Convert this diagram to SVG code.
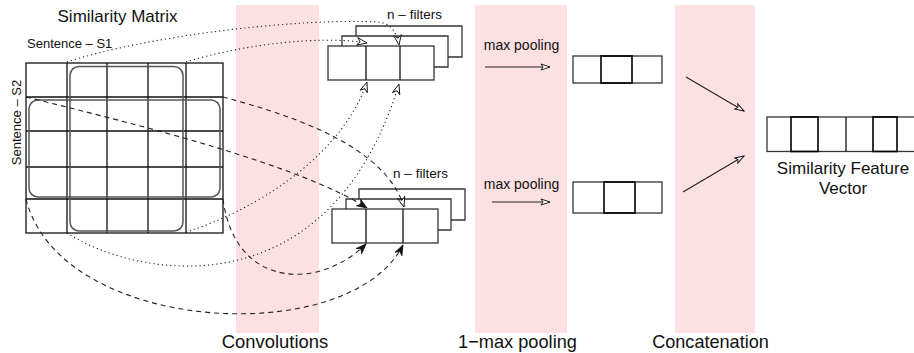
<svg xmlns="http://www.w3.org/2000/svg" width="914" height="353" viewBox="0 0 914 353">
<style>
  .band { fill: #fde0e2; stroke: none; }
  .lbl { font-family: "Liberation Sans", Arial, sans-serif; fill: #111; }
  .grid { fill: none; stroke: #111; stroke-width: 1.3; }
  .win { fill: none; stroke: #555; stroke-width: 1.5; }
  .box { fill: #fff; stroke: #333; stroke-width: 1.3; }
  .bold { fill: none; stroke: #000; stroke-width: 1.6; }
  .layer { fill: none; stroke: #333; stroke-width: 1.3; }
  .dot { fill: none; stroke: #222; stroke-width: 1.1; stroke-dasharray: 1.2 3; }
  .dash { fill: none; stroke: #222; stroke-width: 1.1; stroke-dasharray: 5 4; }
  .arr { fill: none; stroke: #222; stroke-width: 1.1; }
</style>
<defs>
  <marker id="open" markerUnits="userSpaceOnUse" markerWidth="20" markerHeight="20" refX="0" refY="0" orient="auto" overflow="visible">
    <path d="M-10,-3.8 L0,0 L-10,3.8 L-7,0 Z" fill="#fff" stroke="#111" stroke-width="0.9" stroke-linejoin="miter"/>
  </marker>
  <marker id="fill" markerUnits="userSpaceOnUse" markerWidth="20" markerHeight="20" refX="0" refY="0" orient="auto" overflow="visible">
    <path d="M-10,-3.8 L0,0 L-10,3.8 L-7,0 Z" fill="#111" stroke="#111" stroke-width="0.8"/>
  </marker>
  <marker id="small" markerUnits="userSpaceOnUse" markerWidth="20" markerHeight="20" refX="0" refY="0" orient="auto" overflow="visible">
    <path d="M-9,-3 L0,0 L-9,3 L-7,0 Z" fill="#fff" stroke="#111" stroke-width="0.9"/>
  </marker>
</defs>

<g id="bands">
  <rect class="band" x="236" y="5" width="83" height="328"/>
  <rect class="band" x="475" y="5" width="92" height="328"/>
  <rect class="band" x="675" y="5" width="80" height="328"/>
</g>

<g id="similarity-matrix">
  <text class="lbl" x="117.5" y="22" font-size="17" text-anchor="middle">Similarity Matrix</text>
  <text class="lbl" x="27" y="48" font-size="13">Sentence – S1</text>
  <text class="lbl" font-size="13" text-anchor="middle" transform="translate(21,122.5) rotate(-90)">Sentence – S2</text>
  <rect class="grid" x="26" y="63" width="197" height="170"/>
  <path class="grid" d="M67,63 V233 M107,63 V233 M148,63 V233 M186,63 V233 M26,97 H223 M26,131 H223 M26,167 H223 M26,199 H223"/>
  <rect class="win" x="70" y="66.5" width="113" height="164.5" rx="9"/>
  <rect class="win" x="29" y="100" width="191" height="97" rx="9"/>
</g>

<g id="filters-top">
  <text class="lbl" x="414.5" y="19" font-size="13.5" text-anchor="middle">n – filters</text>
  <path class="layer" d="M356,36 V26 H462 V57 H448"/>
  <path class="layer" d="M342,46 V36 H448 V67 H434"/>
  <rect class="box" x="328" y="46" width="106" height="34"/>
  <path class="grid" d="M366,46 V80 M400,46 V80"/>
</g>

<g id="filters-bottom">
  <text class="lbl" x="420.5" y="178" font-size="13.5" text-anchor="middle">n – filters</text>
  <path class="layer" d="M359,199 V189 H465 V220 H451"/>
  <path class="layer" d="M346,209 V199 H451 V230 H438"/>
  <rect class="box" x="332" y="209" width="106" height="34"/>
  <path class="grid" d="M366,209 V243 M403,209 V243"/>
</g>

<g id="pool-top">
  <rect class="box" x="573" y="56" width="89" height="27"/>
  <rect class="bold" x="601" y="56" width="31" height="27"/>
</g>

<g id="pool-bottom">
  <rect class="box" x="573" y="182" width="89" height="31"/>
  <rect class="bold" x="604" y="182" width="31" height="31"/>
</g>

<g id="feature-vector">
  <rect class="box" x="767" y="117" width="160" height="34.5"/>
  <path class="grid" d="M846,117 V151.5"/>
  <rect class="bold" x="791" y="117" width="27" height="34.5"/>
  <rect class="bold" x="873" y="117" width="24" height="34.5"/>
  <text class="lbl" x="843" y="174" font-size="17" text-anchor="middle">Similarity Feature</text>
  <text class="lbl" x="843" y="194" font-size="17" text-anchor="middle">Vector</text>
</g>

<g id="stage-labels">
  <text class="lbl" x="275" y="348" font-size="18.4" text-anchor="middle">Convolutions</text>
  <text class="lbl" x="517.5" y="348" font-size="18.2" text-anchor="middle">1−max pooling</text>
  <text class="lbl" x="710.5" y="348" font-size="18.1" text-anchor="middle">Concatenation</text>
  <text class="lbl" x="521.5" y="50" font-size="14" text-anchor="middle">max pooling</text>
  <text class="lbl" x="521.5" y="189" font-size="14" text-anchor="middle">max pooling</text>
</g>

<g id="connectors">
  <path class="dot" d="M67,62 C150,35 300,18 378,22 C390,23 397,32 399,45" marker-end="url(#open)"/>
  <path class="dot" d="M186,62 C240,45 320,35 367,43" marker-end="url(#open)"/>
  <path class="dot" d="M186,232 C250,212 340,160 367,82" marker-end="url(#open)"/>
  <path class="dot" d="M67,233 C140,280 330,310 399,84" marker-end="url(#open)"/>
  <path class="dash" d="M26,97 C140,125 300,165 367,208" marker-end="url(#fill)"/>
  <path class="dash" d="M223,97 C290,115 385,145 404,207" marker-end="url(#open)"/>
  <path class="dash" d="M26,199 C60,335 350,350 403,245" marker-end="url(#fill)"/>
  <path class="dash" d="M223,199 C235,290 320,290 366,244" marker-end="url(#fill)"/>
  <path class="arr" d="M485,67 H550" marker-end="url(#small)"/>
  <path class="arr" d="M492,202 H550" marker-end="url(#small)"/>
  <path class="arr" d="M686,77 L744,111" marker-end="url(#small)"/>
  <path class="arr" d="M683,192 L744,156" marker-end="url(#small)"/>
</g>
</svg>
